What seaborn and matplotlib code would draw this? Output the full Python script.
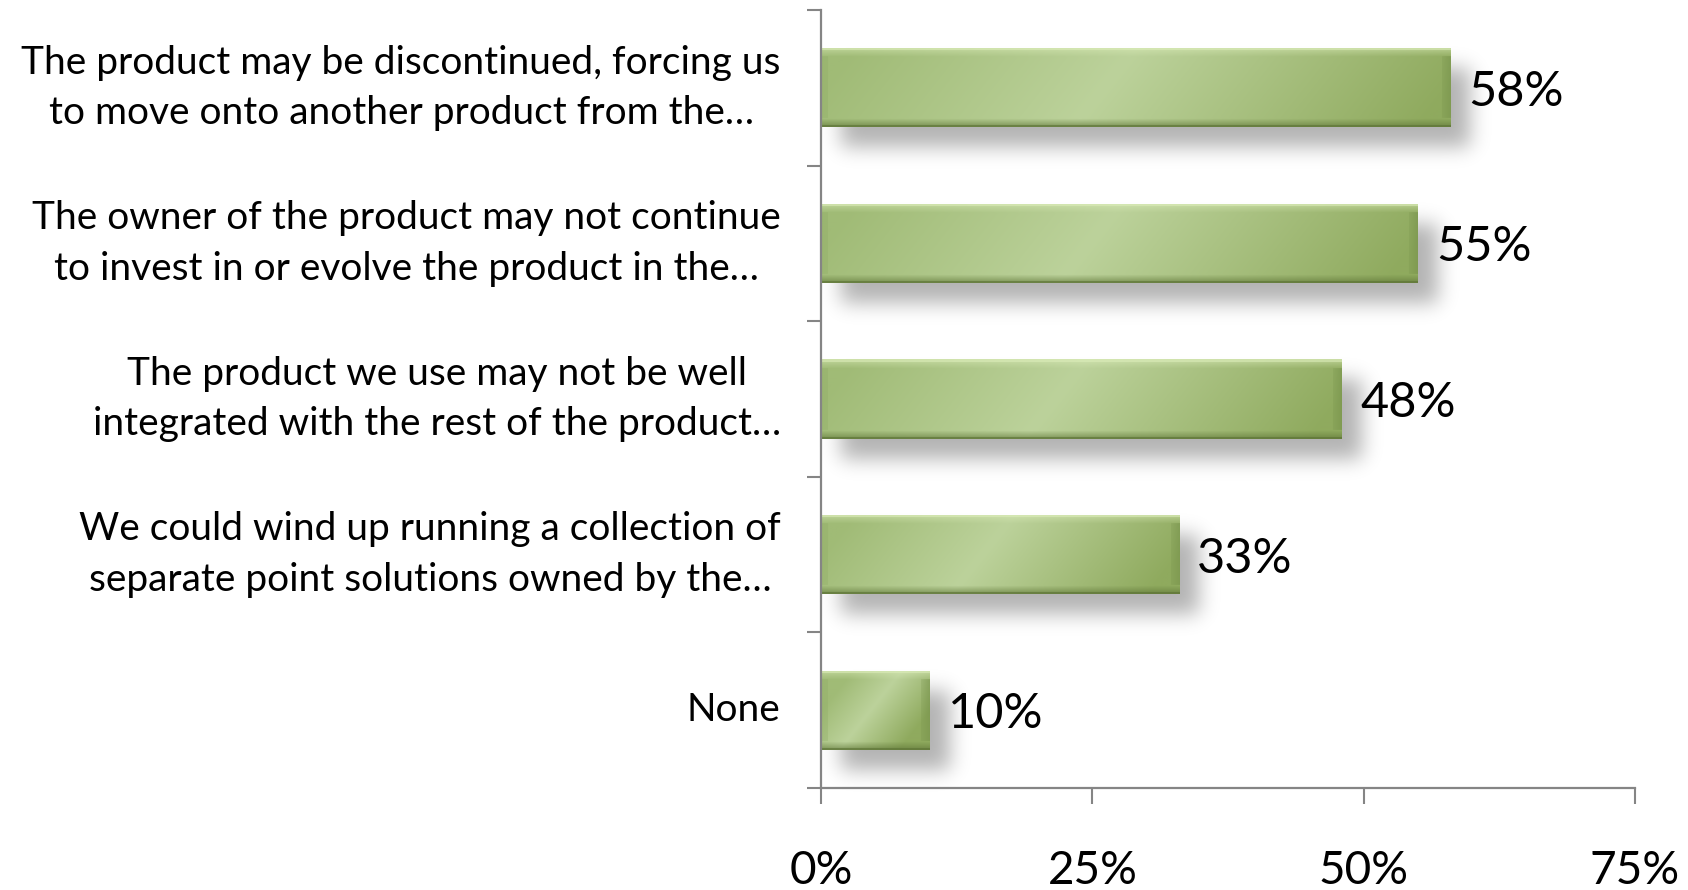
import numpy as np
import matplotlib
matplotlib.use("Agg")
import matplotlib.pyplot as plt
from matplotlib.colors import to_rgb
import seaborn as sns

# Survey responses: concerns about relying on a single vendor's product
categories = [
    "The product may be discontinued, forcing us\nto move onto another product from the\u2026",
    "The owner of the product may not continue\nto invest in or evolve the product in the\u2026",
    "The product we use may not be well\nintegrated with the rest of the product\u2026",
    "We could wind up running a collection of\nseparate point solutions owned by the\u2026",
    "None",
]
values = [58, 55, 48, 33, 10]
x_ticks = [0, 25, 50, 75]
x_tick_labels = ["0%", "25%", "50%", "75%"]

sns.set_theme(style="white")
plt.rcParams["font.family"] = ["Lato", "DejaVu Sans"]

W, H = 1688, 890
fig = plt.figure(figsize=(W / 100, H / 100), dpi=100, facecolor="white")
ax = fig.add_axes([821 / W, 102 / H, (1635 - 821) / W, 778 / H])
ax.set_facecolor("none")

sns.barplot(x=values, y=categories, orient="h", color="#9BBB59",
            saturation=1, width=0.51, ax=ax)
ax.set_xlim(0, 75)
ax.set_ylim(4.5, -0.5)
ax.set_xlabel("")
ax.set_ylabel("")

# Axes styling
axis_gray = "#858585"
for side in ("top", "right"):
    ax.spines[side].set_visible(False)
for side in ("left", "bottom"):
    ax.spines[side].set_color(axis_gray)
    ax.spines[side].set_linewidth(1.6)
ax.set_xticks(x_ticks)
ax.set_xticklabels(x_tick_labels, fontsize=33)
ax.set_yticks(np.arange(len(categories)))
ax.set_yticklabels(categories, fontsize=28)
for lbl in ax.get_yticklabels():
    lbl.set_multialignment("center")
    lbl.set_linespacing(1.5)
    lbl.set_verticalalignment("center")
ax.tick_params(axis="x", which="major", direction="out", length=11.5,
               width=1.5, color=axis_gray, pad=33, bottom=True, labelcolor="black")
ax.tick_params(axis="y", which="major", length=0, pad=29, left=False,
               labelcolor="black")
# tick marks on the category axis sit between the bars
ax.set_yticks(list(np.arange(len(categories) + 1) - 0.5), minor=True)
ax.tick_params(axis="y", which="minor", direction="out", length=10,
               width=1.5, color=axis_gray, left=True)
ax.set_autoscale_on(False)

fig.canvas.draw()

# Soft drop shadow beneath each bar
def gaussian_blur(a, sigma):
    r = int(3 * sigma)
    k = np.exp(-(np.arange(-r, r + 1) ** 2) / (2 * sigma ** 2))
    k /= k.sum()
    a = np.apply_along_axis(lambda m: np.convolve(m, k, mode="same"), 0, a)
    a = np.apply_along_axis(lambda m: np.convolve(m, k, mode="same"), 1, a)
    return a

mask = np.zeros((H, W))
dx, dy = 20, 20
for patch in ax.patches:
    bb = patch.get_window_extent()
    x0, x1 = int(round(bb.x0)) + dx, int(round(bb.x1)) + dx
    r0, r1 = H - int(round(bb.y1)) + dy, H - int(round(bb.y0)) + dy
    mask[max(r0, 0):min(r1, H), max(x0, 0):min(x1, W)] = 1.0
mask = gaussian_blur(mask, 10)
shadow = np.zeros((H, W, 4))
shadow[..., 3] = np.clip(mask, 0, 1) * 0.3
fig.figimage(shadow, xo=0, yo=0, origin="upper", zorder=-1)

# Beveled, gradient-filled bar faces
def bar_face(w, h):
    w, h = max(w, 2), max(h, 2)
    xs = np.arange(w)[None, :]
    ys = np.arange(h)[:, None]
    t = np.clip((xs + 0.8 * (ys - h / 2)) / w, 0, 1)
    c0, c1, c2 = (np.array(to_rgb(c)) for c in ("#A0BB76", "#BCD29B", "#8FAA5E"))
    left = t < 0.45
    u = np.where(left, t / 0.45, (t - 0.45) / 0.55)[..., None]
    img = np.where(left[..., None], c0 + (c1 - c0) * u, c1 + (c2 - c1) * u)

    bev = 9
    yy = np.broadcast_to(ys, (h, w))
    xx = np.broadcast_to(xs, (h, w))
    # top bevel highlight
    top = yy < bev
    a_top = np.where(yy < 3, 0.75, 0.35 * (1 - (yy - 3) / (bev - 3)))[top][:, None]
    img[top] = img[top] * (1 - a_top) + np.array(to_rgb("#DCEDBA")) * a_top
    # bottom bevel shade
    bot = yy >= h - bev
    a_bot = np.where(yy >= h - 2, 0.85, 0.55 * (yy - (h - bev)) / (bev - 2))[bot][:, None]
    img[bot] = img[bot] * (1 - a_bot) + np.array(to_rgb("#5E7537")) * a_bot
    # right bevel
    rgt = (xx >= w - bev) & (yy >= bev) & (yy < h - bev)
    a_r = (0.2 + 0.3 * (xx - (w - bev)) / bev)[rgt][:, None]
    img[rgt] = img[rgt] * (1 - a_r) + np.array(to_rgb("#6F8B45")) * a_r
    # left bevel
    lft = (xx < 7) & (yy >= bev) & (yy < h - bev)
    img[lft] = img[lft] * 0.7 + np.array(to_rgb("#8CA962")) * 0.3
    return img

for patch in ax.patches:
    bb = patch.get_window_extent()
    face = bar_face(int(round(bb.width)), int(round(bb.height)))
    x0, y0 = patch.get_x(), patch.get_y()
    pw, ph = patch.get_width(), patch.get_height()
    im = ax.imshow(face, extent=(x0, x0 + pw, y0 + ph, y0), origin="upper",
                   aspect="auto", interpolation="bilinear", zorder=2)
    im.set_clip_path(patch)
    patch.set_edgecolor("none")

# Value labels beside each bar
for patch, v in zip(ax.patches, values):
    ax.annotate(f"{v}%", xy=(patch.get_width(), patch.get_y() + patch.get_height() / 2),
                xytext=(13, 0), textcoords="offset points", ha="left",
                va="center_baseline", fontsize=35, color="black", zorder=3)

ax.set_xlim(0, 75)
ax.set_ylim(4.5, -0.5)
fig.savefig("out.png", dpi=100, facecolor="white")
